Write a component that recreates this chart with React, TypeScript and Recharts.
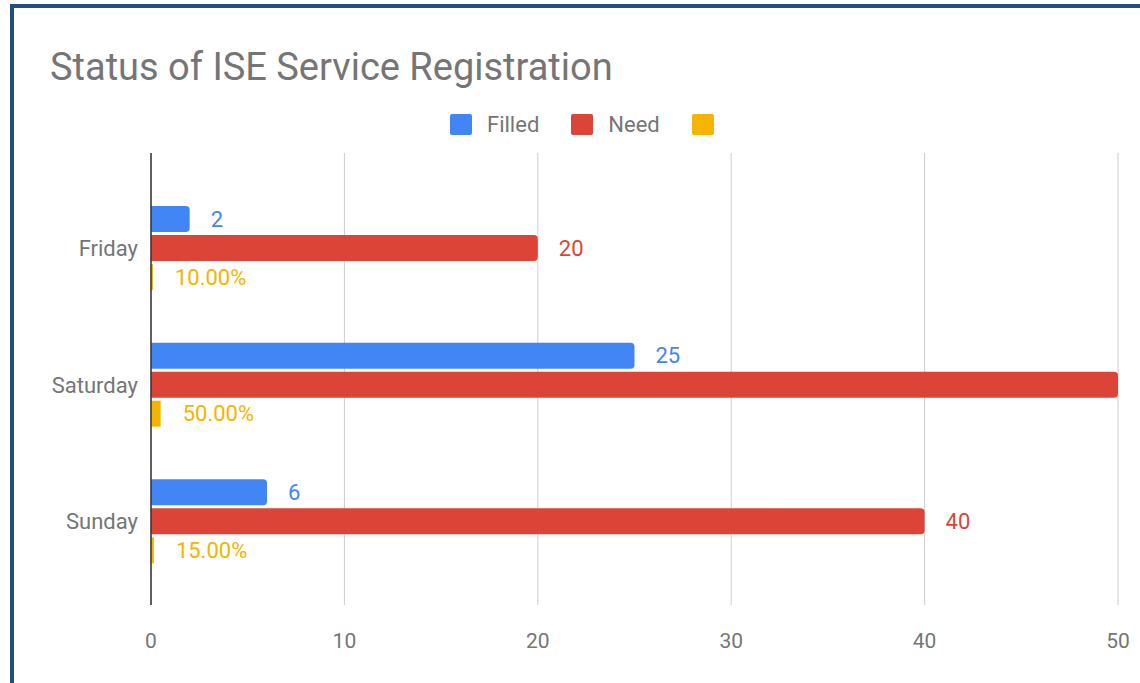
import { BarChart, Bar, XAxis, YAxis, CartesianGrid, LabelList } from 'recharts';

const days = ['Friday', 'Saturday', 'Sunday'];
const filled = [2, 25, 6];
const need = [20, 50, 40];
const ratio = [0.1, 0.5, 0.15];
const xTicks = [0, 10, 20, 30, 40, 50];

const seriesNames = ['Filled', 'Need', ''];
const COLORS = ['#4285f4', '#db4437', '#f4b400'];

const data = days.map((day, i) => ({ day, filled: filled[i], need: need[i], ratio: ratio[i] }));

const FONT = 'Roboto, Arial, sans-serif';
const GREY = '#757575';

function pct(v: any) {
  return (Number(v) * 100).toFixed(2) + '%';
}

export default function App() {
  return (
    <div style={{ position: 'absolute', left: 0, top: 0, width: 1140, height: 683, background: '#fff', overflow: 'hidden', fontFamily: FONT }}>
      <div style={{ position: 'absolute', left: 10, top: 4, width: 1300, height: 900, borderLeft: '4px solid #234e82', borderTop: '4px solid #234e82' }} />
      <div style={{ position: 'absolute', left: 50, top: 48, fontSize: 38, lineHeight: '38px', color: GREY, whiteSpace: 'nowrap' }}>
        Status of ISE Service Registration
      </div>
      <div style={{ position: 'absolute', left: 450, top: 112, height: 24, display: 'flex', alignItems: 'center', fontSize: 22, color: GREY }}>
        {seriesNames.map((name, i) => (
          <div key={i} style={{ display: 'flex', alignItems: 'center', marginRight: 32 }}>
            <div style={{ width: 22, height: 21, background: COLORS[i], borderRadius: 2 }} />
            {name ? <span style={{ marginLeft: 15 }}>{name}</span> : null}
          </div>
        ))}
      </div>
      <div style={{ position: 'absolute', left: 0, top: 0 }}>
        <BarChart
          width={1140}
          height={683}
          data={data}
          layout="vertical"
          margin={{ top: 153, right: 22, bottom: 28, left: 21 }}
          barSize={26}
          barGap={3}
          style={{ fontFamily: FONT }}
        >
          <CartesianGrid horizontal={false} stroke="#cccccc" />
          <XAxis
            type="number"
            domain={[0, 50]}
            ticks={xTicks}
            axisLine={false}
            tickLine={false}
            tickSize={0}
            tickMargin={28}
            height={50}
            tick={{ fill: GREY, fontSize: 21 }}
          />
          <YAxis
            type="category"
            dataKey="day"
            width={130}
            padding={{ top: 27, bottom: 15 }}
            axisLine={{ stroke: '#333333', strokeWidth: 1.5 }}
            tickLine={false}
            tickSize={0}
            tickMargin={13}
            tick={{ fill: GREY, fontSize: 22 }}
          />
          <Bar dataKey="filled" name={seriesNames[0]} fill={COLORS[0]} radius={[0, 4, 4, 0]} isAnimationActive={false}>
            <LabelList dataKey="filled" position="right" offset={21} fill={COLORS[0]} fontSize={22} />
          </Bar>
          <Bar dataKey="need" name={seriesNames[1]} fill={COLORS[1]} radius={[0, 4, 4, 0]} isAnimationActive={false}>
            <LabelList dataKey="need" position="right" offset={21} fill={COLORS[1]} fontSize={22} />
          </Bar>
          <Bar dataKey="ratio" name="ratio" fill={COLORS[2]} isAnimationActive={false}>
            <LabelList dataKey="ratio" position="right" offset={22} fill={COLORS[2]} fontSize={22} formatter={pct} />
          </Bar>
        </BarChart>
      </div>
    </div>
  );
}
